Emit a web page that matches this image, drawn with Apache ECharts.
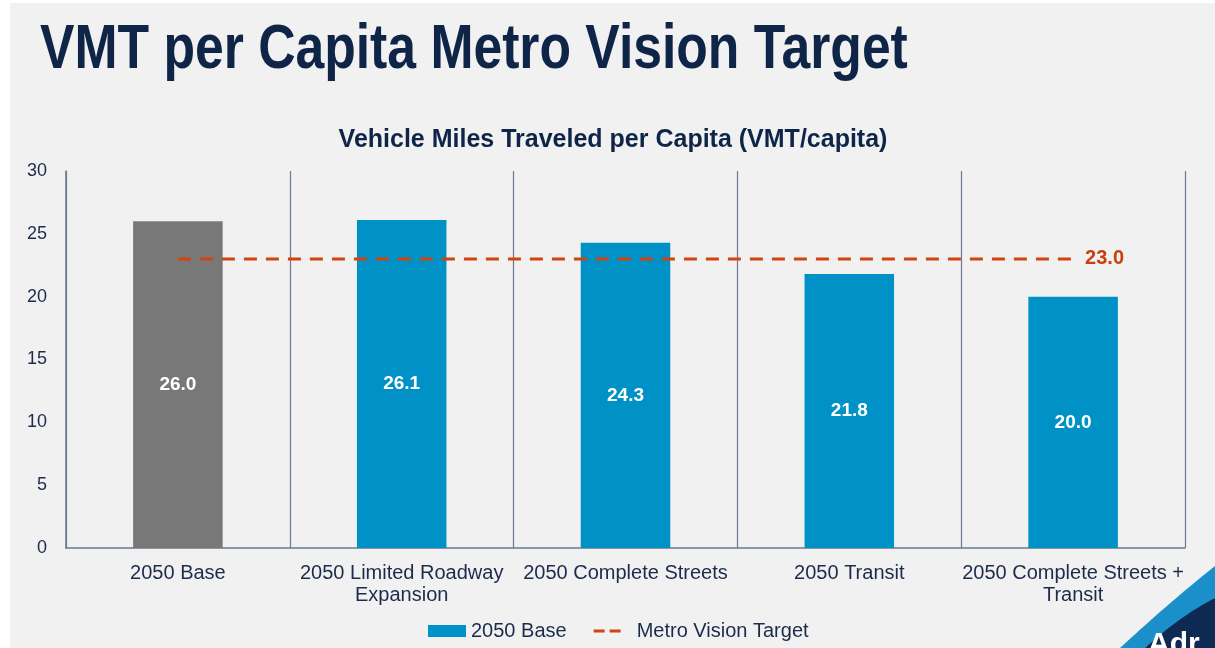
<!DOCTYPE html>
<html>
<head>
<meta charset="utf-8">
<style>
  html, body { margin: 0; padding: 0; background: #fff; }
  #chart { width: 1215px; height: 648px; }
</style>
<script src="https://cdn.jsdelivr.net/npm/echarts@6/dist/echarts.min.js"></script>
</head>
<body>
<div id="chart"></div>
<script>
// 数据
const categories = [
  '2050 Base',
  '2050 Limited Roadway\nExpansion',
  '2050 Complete Streets',
  '2050 Transit',
  '2050 Complete Streets +\nTransit'
];
const vmtValues = [26.0, 26.1, 24.3, 21.8, 20.0];
const targetValues = [23.0, 23.0, 23.0, 23.0, 23.0];
const yTicks = [0, 5, 10, 15, 20, 25, 30];

const navy = '#1c2b4a';
const axisColor = '#6b7a90';
const barBlue = '#0091c6';
const baseGray = '#787878';
const targetRed = '#d3430d';

// 二次贝塞尔采样，用于右下角装饰
function quad(p0, p1, p2, n) {
  const pts = [];
  for (let i = 0; i <= n; i++) {
    const t = i / n;
    const a = (1 - t) * (1 - t), b = 2 * t * (1 - t), c = t * t;
    pts.push([a * p0[0] + b * p1[0] + c * p2[0], a * p0[1] + b * p1[1] + c * p2[1]]);
  }
  return pts;
}
const swooshBlue = quad([1120, 648], [1172, 600], [1215, 566], 20)
  .concat(quad([1215, 598], [1178, 620], [1145, 648], 20));
const swooshNavy = quad([1145, 648], [1180, 616], [1215, 598], 20).concat([[1215, 648]]);

// 图例中虚线图标（两段短划线）
const dashIcon = 'path://M0,4.5h11v3h-11zM16,4.5h11v3h-11zM0,0h0.01v0.01h-0.01zM37.99,11.99h0.01v0.01h-0.01z';

const chart = echarts.init(document.getElementById('chart'));

chart.setOption({
  backgroundColor: '#f1f1f1',
  animation: false,
  textStyle: { fontFamily: 'Liberation Sans, Arial, sans-serif' },
  title: {
    text: 'Vehicle Miles Traveled per Capita (VMT/capita)',
    left: 608,
    textAlign: 'center',
    top: 123,
    textStyle: { color: '#0f2548', fontSize: 25, fontWeight: 'bold' }
  },
  graphic: [
    // 左侧/顶部白边
    { type: 'rect', shape: { x: 0, y: 0, width: 10, height: 648 }, style: { fill: '#fff' } },
    { type: 'rect', shape: { x: 0, y: 0, width: 1215, height: 3 }, style: { fill: '#fff' } },
    // 大标题
    {
      type: 'text',
      x: 40,
      y: 19,
      scaleX: 0.82,
      style: {
        text: 'VMT per Capita Metro Vision Target',
        fill: '#0f2548',
        font: 'bold 63px "Liberation Sans", Arial, sans-serif'
      }
    },
    // 右下角 logo
    { type: 'polygon', shape: { points: swooshBlue }, style: { fill: '#1a8fc9' } },
    { type: 'polygon', shape: { points: swooshNavy }, style: { fill: '#0e2a52' } },
    {
      type: 'text',
      x: 1148,
      y: 630,
      style: { text: 'Adr', fill: '#fff', font: 'bold 30px "Liberation Sans", Arial, sans-serif' }
    }
  ],
  legend: {
    bottom: 2,
    left: 423,
    itemGap: 27,
    itemWidth: 38,
    itemHeight: 12,
    textStyle: { color: navy, fontSize: 20 },
    data: [
      { name: '2050 Base', icon: 'rect', itemStyle: { color: barBlue } },
      { name: 'Metro Vision Target', icon: dashIcon, itemStyle: { color: targetRed } }
    ]
  },
  grid: { left: 66, right: 30, top: 171, bottom: 100 },
  xAxis: {
    type: 'category',
    data: categories,
    axisTick: { show: false },
    axisLine: { lineStyle: { color: axisColor, width: 1.5 } },
    splitLine: { show: true, lineStyle: { color: axisColor, width: 1.2 } },
    axisLabel: { color: navy, fontSize: 20, margin: 14, lineHeight: 22, interval: 0 }
  },
  yAxis: {
    type: 'value',
    min: yTicks[0],
    max: yTicks[yTicks.length - 1],
    interval: 5,
    splitLine: { show: false },
    axisTick: { show: false },
    axisLine: { show: true, lineStyle: { color: axisColor, width: 1.5 } },
    axisLabel: { color: navy, fontSize: 18, margin: 19 }
  },
  series: [
    {
      name: '2050 Base',
      type: 'bar',
      barWidth: '40%',
      data: vmtValues.map((v, i) => ({
        value: v,
        itemStyle: { color: i === 0 ? baseGray : barBlue }
      })),
      label: {
        show: true,
        position: 'inside',
        color: '#fff',
        fontSize: 19,
        fontWeight: 'bold',
        formatter: (p) => p.value.toFixed(1)
      }
    },
    {
      name: 'Metro Vision Target',
      type: 'line',
      data: targetValues,
      symbol: 'none',
      z: 5,
      lineStyle: { color: targetRed, width: 3, type: [13, 9] },
      itemStyle: { color: targetRed },
      endLabel: {
        show: true,
        distance: 12,
        color: '#c9400f',
        fontSize: 20,
        fontWeight: 'bold',
        formatter: (p) => p.value.toFixed(1)
      }
    }
  ]
});
</script>
</body>
</html>
